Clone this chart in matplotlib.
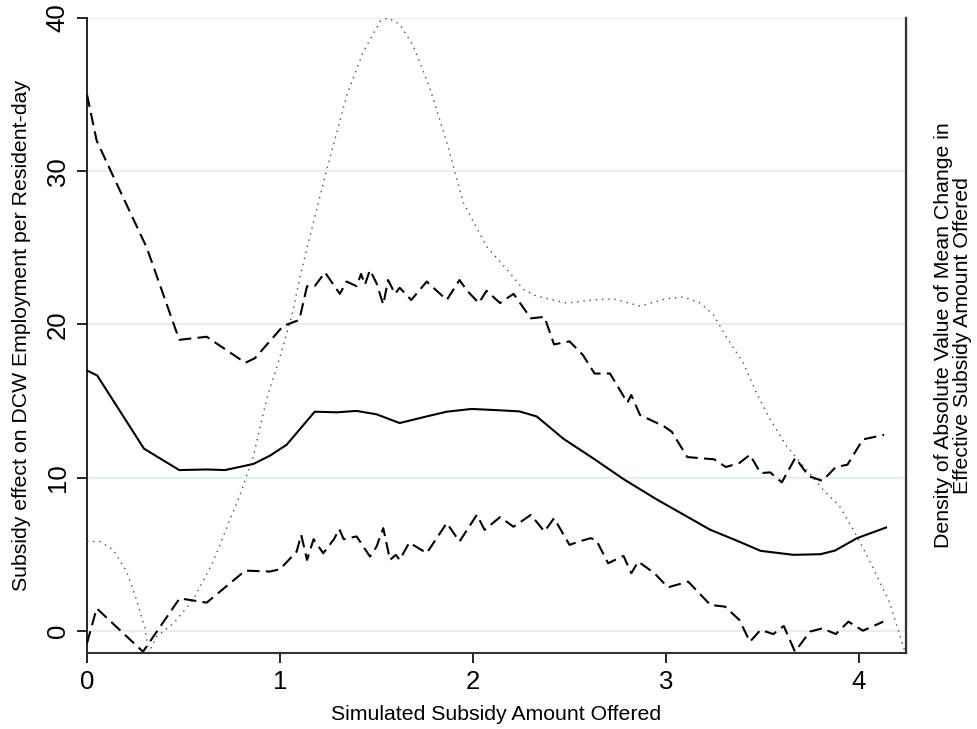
import matplotlib
matplotlib.use("Agg")
import matplotlib.pyplot as plt

plt.rcParams['font.family'] = ['Liberation Sans', 'DejaVu Sans']

# Point estimate (solid)
est_x = [0, 0.053, 0.295, 0.478, 0.62, 0.715, 0.862, 0.948, 1.035, 1.13, 1.18, 1.294,
         1.397, 1.5, 1.62, 1.76, 1.864, 1.993, 2.14, 2.24, 2.33, 2.47, 2.62, 2.78,
         2.95, 3.23, 3.37, 3.49, 3.66, 3.80, 3.876, 3.99, 4.14]
est_y = [17.0, 16.67, 11.9, 10.5, 10.54, 10.5, 10.9, 11.44, 12.16, 13.57, 14.31, 14.27,
         14.36, 14.14, 13.57, 14.0, 14.31, 14.49, 14.4, 14.33, 14.0, 12.53, 11.29, 9.91,
         8.6, 6.6, 5.88, 5.23, 4.97, 5.01, 5.25, 6.06, 6.75]

# Upper confidence bound (dashed)
hi_x = [0, 0.05, 0.12, 0.31, 0.478, 0.62, 0.82, 0.87, 1.016, 1.10, 1.14, 1.18, 1.233,
        1.31, 1.345, 1.397, 1.42, 1.44, 1.466, 1.5, 1.535, 1.56, 1.596, 1.62, 1.68,
        1.76, 1.864, 1.93, 1.97, 2.03, 2.07, 2.14, 2.21, 2.30, 2.37, 2.42, 2.50, 2.57,
        2.63, 2.71, 2.80, 2.82, 2.865, 2.99, 3.03, 3.11, 3.25, 3.31, 3.38, 3.435, 3.49,
        3.54, 3.60, 3.67, 3.74, 3.81, 3.88, 3.94, 4.02, 4.13]
hi_y = [35.0, 32.0, 30.1, 25.0, 19.0, 19.2, 17.5, 17.8, 19.9, 20.3, 22.5, 22.5, 23.4,
        22.0, 22.8, 22.5, 23.3, 22.6, 23.55, 22.7, 21.3, 22.9, 22.0, 22.4, 21.6,
        22.8, 21.6, 22.9, 22.2, 21.4, 22.2, 21.4, 22.0, 20.4, 20.5, 18.7, 18.9, 18.0,
        16.8, 16.8, 14.9, 15.4, 14.1, 13.35, 13.0, 11.35, 11.2, 10.7, 10.96, 11.5, 10.3,
        10.35, 9.7, 11.3, 10.1, 9.8, 10.7, 10.85, 12.5, 12.8]

# Lower confidence bound (dashed)
lo_x = [0, 0.05, 0.29, 0.48, 0.62, 0.82, 0.948, 1.0, 1.086, 1.11, 1.14, 1.174, 1.224,
        1.28, 1.307, 1.33, 1.397, 1.466, 1.5, 1.535, 1.57, 1.6, 1.62, 1.67, 1.76,
        1.864, 1.93, 2.02, 2.06, 2.14, 2.21, 2.30, 2.37, 2.42, 2.50, 2.55, 2.61, 2.64,
        2.70, 2.78, 2.82, 2.856, 2.94, 3.01, 3.115, 3.23, 3.306, 3.38, 3.435, 3.49,
        3.556, 3.61, 3.668, 3.746, 3.81, 3.88, 3.945, 4.02, 4.126]
lo_y = [-0.8, 1.48, -1.35, 2.13, 1.85, 3.94, 3.88, 4.03, 5.18, 6.27, 4.64, 5.99, 5.07,
        6.0, 6.65, 5.99, 6.17, 4.86, 5.5, 6.71, 4.64, 4.97, 4.64, 5.77, 5.08,
        7.04, 5.84, 7.58, 6.6, 7.43, 6.8, 7.58, 6.49, 7.36, 5.62, 5.84, 6.06, 5.9,
        4.42, 4.9, 3.77, 4.53, 3.77, 2.85, 3.22, 1.7, 1.59, 0.72, -0.7, 0.07,
        -0.2, 0.33, -1.35, -0.04, 0.17, -0.2, 0.61, 0.02, 0.61]

# Density of |mean change| (dotted, right axis; values in plot-height units)
dens_x = [0, 0.067, 0.136, 0.205, 0.257, 0.30, 0.32, 0.36, 0.448, 0.55, 0.654, 0.74,
          0.79, 0.862, 0.93, 1.0, 1.06, 1.10, 1.14, 1.24, 1.345, 1.43, 1.52, 1.56,
          1.62, 1.69, 1.777, 1.864, 1.95, 2.07, 2.175, 2.26, 2.33, 2.485, 2.62, 2.727,
          2.865, 3.0, 3.09, 3.176, 3.245, 3.31, 3.40, 3.47, 3.54, 3.625, 3.73, 3.815,
          3.90, 3.99, 4.07, 4.16, 4.24]
dens_y = [5.84, 5.84, 5.3, 3.88, 2.03, 0.17, -1.43, -0.37, 0.5, 2.03, 4.53, 7.25,
          8.78, 11.4, 15.1, 17.9, 20.5, 22.9, 25.0, 30.0, 34.9, 37.76, 39.8, 40.0,
          39.6, 38.2, 35.4, 31.9, 27.95, 25.1, 23.6, 22.3, 21.85, 21.4, 21.6, 21.68,
          21.2, 21.68, 21.8, 21.4, 20.65, 19.24, 17.5, 15.5, 13.8, 12.05, 10.5, 9.2,
          8.13, 6.17, 4.2, 1.81, -1.43]

xticks = [0, 1, 2, 3, 4]
yticks = [0, 10, 20, 30, 40]

W, H = 978, 729
fig = plt.figure(figsize=(W / 100, H / 100), dpi=100)
L, R, T, B = 87, 906, 18, 653
ax = fig.add_axes([L / W, 1 - B / H, (R - L) / W, (B - T) / H])
ax2 = ax.twinx()

ylo, yhi = -1.436, 40.0
ax.set_xlim(0, 4.2435)
ax.set_ylim(ylo, yhi)
ax2.set_ylim(ylo, yhi)

grid_c = '#E6EEF1'
for v in yticks:
    ax.axhline(v, color=grid_c, lw=1.6, zorder=0)

ax2.plot(dens_x, dens_y, color='#4d4d4d', lw=1.0, ls=(0, (1, 3.5)))
ax.plot(est_x, est_y, color='black', lw=1.5)
ax.plot(hi_x, hi_y, color='black', lw=1.5, ls=(0, (6, 3)))
ax.plot(lo_x, lo_y, color='black', lw=1.5, ls=(0, (6, 3)))

ax.set_xticks(xticks)
ax.set_yticks(yticks)
ax.set_xticklabels([str(t) for t in xticks], fontsize=18.5)
ax.set_yticklabels([str(t) for t in yticks], fontsize=18.5, rotation=90, va='center')
ax.tick_params(axis='both', direction='out', length=7.5, width=1.2, colors='black', pad=5)
ax2.set_yticks([])

for s in ['top']:
    ax.spines[s].set_visible(False)
    ax2.spines[s].set_visible(False)
ax.spines['left'].set_linewidth(1.2)
ax.spines['bottom'].set_linewidth(1.5)
ax.spines['bottom'].set_color('#333333')
ax2.spines['right'].set_linewidth(1.6)
ax2.spines['right'].set_color('#333333')
ax2.spines['left'].set_visible(False)
ax2.spines['bottom'].set_visible(False)

ax.set_xlabel('Simulated Subsidy Amount Offered', fontsize=15.3, va='center')
ax.xaxis.set_label_coords(0.5, -(714 - B) / (B - T))
ax.set_ylabel('Subsidy effect on DCW Employment per Resident-day', fontsize=15.3,
              va='center')
ax.yaxis.set_label_coords((22 - L) / (R - L), 0.5)
ax2.set_ylabel('Density of Absolute Value of Mean Change in\nEffective Subsidy Amount Offered',
               fontsize=15.3, rotation=90, va='center', ha='center', linespacing=0.95)
ax2.yaxis.set_label_coords((953 - L) / (R - L), 0.5)

fig.savefig('out.png', dpi=100, facecolor='white')
